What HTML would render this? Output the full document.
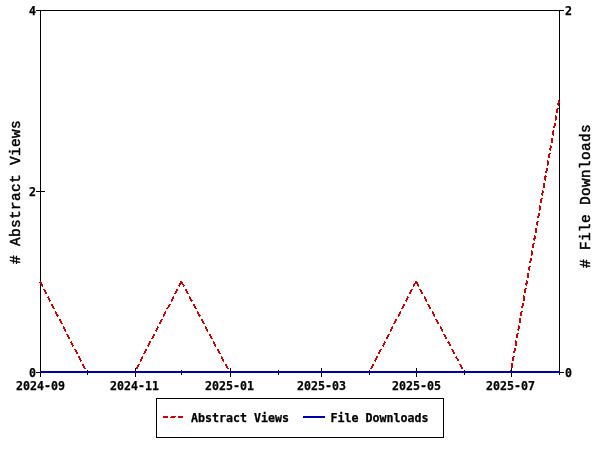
<!DOCTYPE html>
<html><head><meta charset="utf-8"><title>Usage chart</title>
<style>
html,body{margin:0;padding:0;background:#fff;}
svg{display:block}
.s{font-family:"DejaVu Sans Mono","Liberation Mono",monospace;font-weight:bold;font-size:11.63px;fill:#000;stroke:#000;stroke-width:0.25px}
.g{font-family:"Liberation Mono","DejaVu Sans Mono",monospace;font-weight:normal;font-size:14.4px;letter-spacing:0.36px;fill:#000;stroke:#000;stroke-width:0.5px}
</style></head><body>
<svg width="600" height="450" viewBox="0 0 600 450">
<rect width="600" height="450" fill="#fff"/>
<g shape-rendering="crispEdges" fill="#000">
<rect x="40" y="10" width="520" height="1"/>
<rect x="40" y="10" width="1" height="367"/>
<rect x="559" y="10" width="1" height="363"/>
<rect x="40" y="372" width="520" height="1"/>
<rect x="36" y="10" width="5" height="1"/>
<rect x="36" y="191" width="9" height="1"/>
<rect x="36" y="372" width="5" height="1"/>
<rect x="559" y="10" width="5" height="1"/>
<rect x="559" y="372" width="5" height="1"/>
<rect x="87" y="370" width="1" height="5"/>
<rect x="135" y="368" width="1" height="9"/>
<rect x="181" y="370" width="1" height="5"/>
<rect x="230" y="368" width="1" height="9"/>
<rect x="278" y="370" width="1" height="5"/>
<rect x="321" y="368" width="1" height="9"/>
<rect x="369" y="370" width="1" height="5"/>
<rect x="416" y="368" width="1" height="9"/>
<rect x="464" y="370" width="1" height="5"/>
<rect x="511" y="368" width="1" height="9"/>
<rect x="559" y="370" width="1" height="5"/>
</g>
<g fill="none" stroke="#cc0000" stroke-width="1.8" shape-rendering="crispEdges">
<line x1="40.00" y1="281.50" x2="86.62" y2="372.00" stroke-width="1.796" stroke-dasharray="5.62 2.81"/>
<line x1="86.62" y1="372.00" x2="134.79" y2="372.00" stroke-width="2.000" stroke-dasharray="5.00 2.50"/>
<line x1="181.40" y1="281.50" x2="134.79" y2="372.00" stroke-width="1.796" stroke-dasharray="5.62 2.81"/>
<line x1="181.40" y1="281.50" x2="229.57" y2="372.00" stroke-width="1.783" stroke-dasharray="5.66 2.83"/>
<line x1="229.57" y1="372.00" x2="277.75" y2="372.00" stroke-width="2.000" stroke-dasharray="5.00 2.50"/>
<line x1="277.75" y1="372.00" x2="321.25" y2="372.00" stroke-width="2.000" stroke-dasharray="5.00 2.50"/>
<line x1="321.25" y1="372.00" x2="369.43" y2="372.00" stroke-width="2.000" stroke-dasharray="5.00 2.50"/>
<line x1="416.04" y1="281.50" x2="369.43" y2="372.00" stroke-width="1.796" stroke-dasharray="5.62 2.81"/>
<line x1="416.04" y1="281.50" x2="464.21" y2="372.00" stroke-width="1.783" stroke-dasharray="5.66 2.83"/>
<line x1="464.21" y1="372.00" x2="510.83" y2="372.00" stroke-width="2.000" stroke-dasharray="5.00 2.50"/>
<line x1="559.00" y1="100.50" x2="510.83" y2="372.00" stroke-width="1.989" stroke-dasharray="5.08 2.54"/>
</g>
<rect x="40" y="371" width="520" height="2" fill="#0000aa" shape-rendering="crispEdges"/>
<text class="s" x="36" y="14.5" text-anchor="end">4</text>
<text class="s" x="36" y="195.5" text-anchor="end">2</text>
<text class="s" x="36" y="376.5" text-anchor="end">0</text>
<text class="s" x="565" y="14.5">2</text>
<text class="s" x="565" y="376.5">0</text>
<text class="s" x="40.5" y="389.6" text-anchor="middle">2024-09</text>
<text class="s" x="134.5" y="389.6" text-anchor="middle">2024-11</text>
<text class="s" x="229.5" y="389.6" text-anchor="middle">2025-01</text>
<text class="s" x="321.5" y="389.6" text-anchor="middle">2025-03</text>
<text class="s" x="416.5" y="389.6" text-anchor="middle">2025-05</text>
<text class="s" x="510.5" y="389.6" text-anchor="middle">2025-07</text>
<text class="g" transform="translate(20.2,264) rotate(-90)"># Abstract Views</text>
<text class="g" transform="translate(590.2,268) rotate(-90)"># File Downloads</text>
<rect x="156.5" y="398.5" width="287" height="39" fill="#fff" stroke="#000" stroke-width="1" shape-rendering="crispEdges"/>
<g fill="#cc0000" shape-rendering="crispEdges"><rect x="163" y="416" width="5" height="2"/><rect x="171" y="416" width="5" height="1"/><rect x="170" y="417" width="5" height="1"/><rect x="178" y="416" width="5" height="2"/></g>
<text class="s" x="191" y="422">Abstract Views</text>
<rect x="303" y="416" width="22" height="2" fill="#0000aa" shape-rendering="crispEdges"/>
<text class="s" x="330.5" y="422">File Downloads</text>
</svg>
</body></html>
